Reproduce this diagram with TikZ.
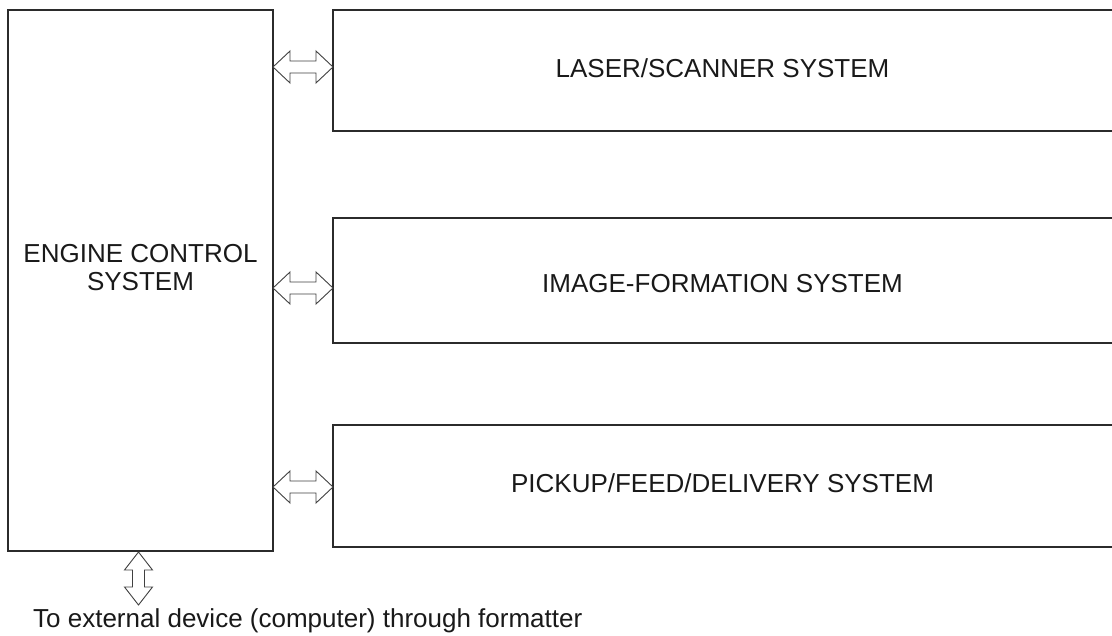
\documentclass[tikz,border=0pt]{standalone}
\usepackage{fontspec}
\setmainfont{Liberation Sans}
\usepackage{tikz}
\usetikzlibrary{calc, positioning}

\definecolor{linegray}{HTML}{2B2B2B}

% double block arrows (tip to tip)
\newcommand{\dblarrowh}[2]{%
  \draw[blockarrow] (#1) -- ++(17,16) -- ++(0,-10) -- ($(#2)+(-17,6)$) -- ++(0,10)
    -- (#2) -- ++(-17,-16) -- ++(0,10) -- ($(#1)+(17,-6)$) -- ++(0,-10) -- cycle;}
\newcommand{\dblarrowv}[2]{%
  \draw[blockarrow] (#1) -- ++(14,-18) -- ++(-8,0) -- ($(#2)+(6,18)$) -- ++(8,0)
    -- (#2) -- ++(-14,18) -- ++(8,0) -- ($(#1)+(-6,-18)$) -- ++(-8,0) -- cycle;}

\begin{document}
\begin{tikzpicture}[x=1pt, y=1pt,
    font=\fontsize{26}{28}\selectfont,
    sysbox/.style={rectangle, inner sep=0pt, outer sep=0pt, line width=2pt,
                   draw=linegray, text=black!90, align=center},
    openbox/.style={rectangle, inner sep=0pt, outer sep=0pt, text=black!90,
                    text height=18.6pt, text depth=0pt, minimum width=779},
    boxedge/.style={line width=2pt, draw=linegray},
    blockarrow/.style={line width=0.9pt, draw=black!75, fill=white, line join=miter}]
    \useasboundingbox (0,0) rectangle (1112,-636);

    % 1. Engine control block
    \node[sysbox, minimum width=265, minimum height=541] (engine) at (140.5,-280.5) {};
    \node[text=black!90, align=center] (enginelabel) at (140.5,-268) {ENGINE CONTROL\\SYSTEM};

    % 2. Subsystems (open to the right)
    \node[openbox, minimum height=121, text depth=3.6pt] (laser) at (722.5,-70.5) {LASER/SCANNER SYSTEM};
    \node[openbox, minimum height=125, text height=25pt] (image) at (722.5,-280.5) {IMAGE-FORMATION SYSTEM};
    \node[openbox, minimum height=122, text depth=4.6pt] (pickup) at (722.5,-486) {PICKUP/FEED/DELIVERY SYSTEM};
    \foreach \sys in {laser, image, pickup} {
        \draw[boxedge] ([xshift=5]\sys.north east) -- (\sys.north west)
            -- (\sys.south west) -- ([xshift=5]\sys.south east);
    }

    % 3. Links
    \dblarrowh{engine.east |- 0,-67}{laser.west |- 0,-67}
    \dblarrowh{engine.east |- 0,-288}{image.west |- 0,-288}
    \dblarrowh{engine.east |- 0,-487}{pickup.west |- 0,-487}

    % 4. External device
    \coordinate (exttop) at (138.5,-552);
    \coordinate (extbot) at (138.5,-605);
    \dblarrowv{exttop}{extbot}
    \node[anchor=base west, inner sep=0pt, text=black!90] (ext) at (33,-627)
        {To external device (computer) through formatter};
\end{tikzpicture}
\end{document}
